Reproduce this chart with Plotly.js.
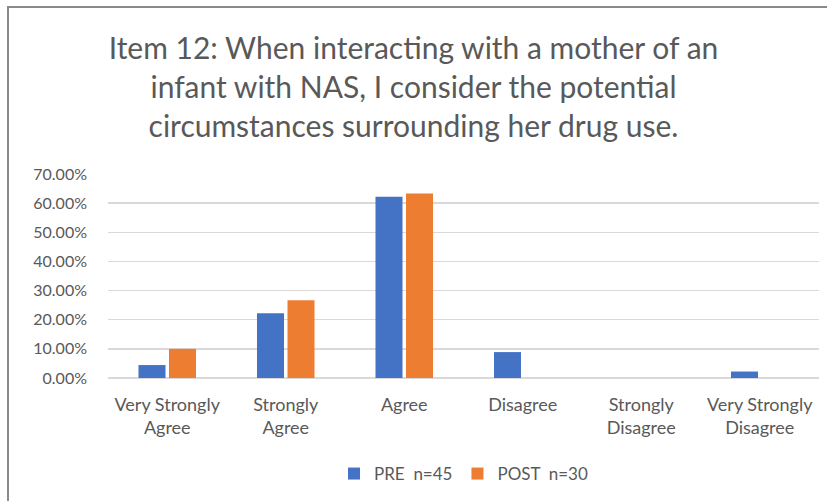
<!DOCTYPE html>
<html>
<head>
<meta charset="utf-8">
<script src="https://cdn.plot.ly/plotly-3.0.1.min.js"></script>
<style>
  html, body { margin: 0; padding: 0; background: #fff; }
  #chart { position: absolute; left: 0; top: 0; width: 827px; height: 501px; }
  #frame { position: absolute; left: 7px; top: 6px; width: 840px; height: 520px;
           border: 2px solid #8a8a8a; pointer-events: none; z-index: 10; }
</style>
</head>
<body>
<div id="chart"></div>
<div id="frame"></div>
<script>
const categories = [
  "Very Strongly<br>Agree",
  "Strongly<br>Agree",
  "Agree",
  "Disagree",
  "Strongly<br>Disagree",
  "Very Strongly<br>Disagree"
];
const preValues = [0.0444, 0.2222, 0.6222, 0.0889, 0, 0.0222];
const postValues = [0.1000, 0.2667, 0.6333, 0, 0, 0];
const seriesNames = ["PRE  n=45", "POST  n=30"];
const yTickValues = [0, 0.1, 0.2, 0.3, 0.4, 0.5, 0.6, 0.7];
const titleText = "Item 12: When interacting with a mother of an<br>infant with NAS, I consider the potential<br>circumstances surrounding her drug use.";

const FONT = "Lato, 'Open Sans', sans-serif";
const GRAY = "#595959";

const traces = [
  { type: "bar", name: seriesNames[0], x: categories, y: preValues,
    marker: { color: "#4472C4", line: { width: 0 } }, hoverinfo: "y" },
  { type: "bar", name: seriesNames[1], x: categories, y: postValues,
    marker: { color: "#ED7D31", line: { width: 0 } }, hoverinfo: "y" }
];

const layout = {
  width: 827, height: 501,
  paper_bgcolor: "#ffffff", plot_bgcolor: "#ffffff",
  margin: { l: 108, r: 8, t: 174, b: 123 },
  barmode: "group",
  bargap: 0.485,
  bargroupgap: 0.115,
  title: {
    text: titleText,
    font: { family: FONT, size: 30, color: GRAY },
    x: 0.5, xanchor: "center",
    y: 1 - 59 / 501, yanchor: "middle", yref: "container"
  },
  xaxis: {
    type: "category",
    tickfont: { family: FONT, size: 18, color: GRAY },
    showgrid: false, showline: false, zeroline: false,
    ticks: "", ticklabelstandoff: 14
  },
  yaxis: {
    range: [0, 0.7],
    tickvals: yTickValues,
    tickformat: ".2%",
    tickfont: { family: FONT, size: 16, color: GRAY },
    showgrid: true, gridcolor: "#D9D9D9", gridwidth: 1.5,
    zeroline: true, zerolinecolor: "#D9D9D9", zerolinewidth: 1.5,
    showline: false, ticks: "", ticklabelstandoff: 20
  },
  showlegend: true,
  legend: {
    orientation: "h", x: 0.5, xanchor: "center",
    y: -(474 - 378) / 204, yanchor: "middle",
    font: { family: FONT, size: 17, color: GRAY },
    itemwidth: 30
  }
};

Plotly.newPlot("chart", traces, layout, { displayModeBar: false, staticPlot: true });
</script>
</body>
</html>
